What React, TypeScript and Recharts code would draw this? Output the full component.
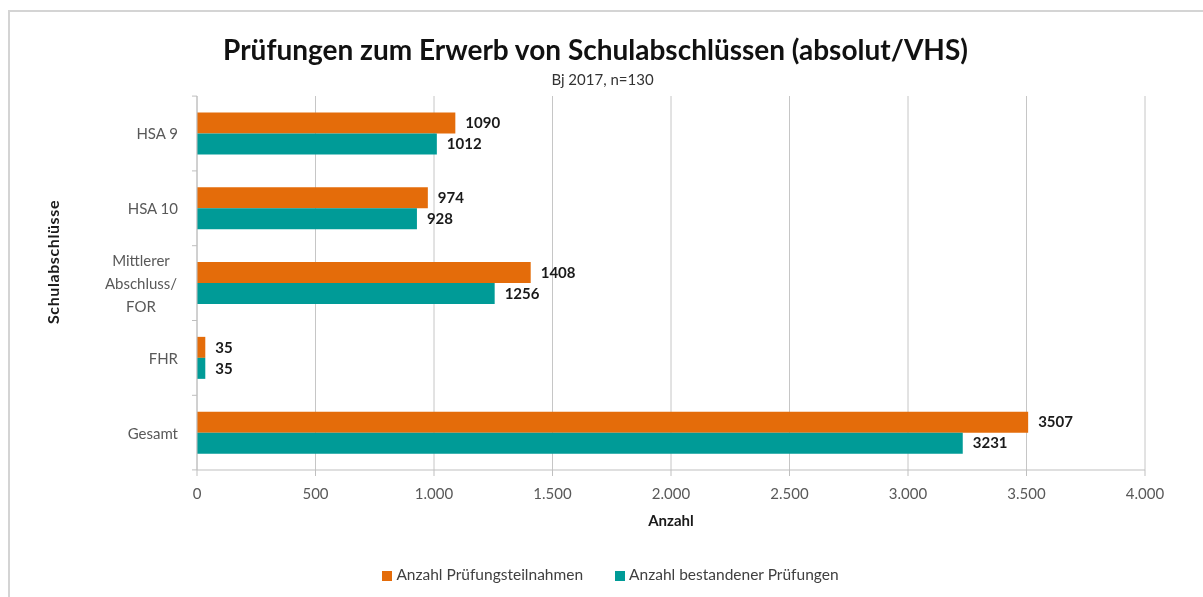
import {BarChart, Bar, XAxis, YAxis, CartesianGrid, Legend, LabelList} from 'recharts';

const categories = ['HSA 9', 'HSA 10', 'Mittlerer\nAbschluss/\nFOR', 'FHR', 'Gesamt'];
const teilnahmen = [1090, 974, 1408, 35, 3507];
const bestanden = [1012, 928, 1256, 35, 3231];
const xTicks = [0, 500, 1000, 1500, 2000, 2500, 3000, 3500, 4000];

const ORANGE = '#e46c0a';
const TEAL = '#009b97';
const FONT = 'Lato, "Open Sans", sans-serif';

const W = 1187;
const H = 581;
const MARGIN = {top: 88, right: 50, left: 0, bottom: 6};
const Y_WIDTH = 189;
const X_HEIGHT = 94;
const PLOT_H = 373;

const data = categories.map((name, i) => ({
    name,
    teilnahmen: teilnahmen[i],
    bestanden: bestanden[i],
}));

const fmt = (v: number) => v.toString().replace(/\B(?=(\d{3})+(?!\d))/g, '.');

const YTick = (props: any) => {
    const {y, payload, index} = props;
    const band = PLOT_H / categories.length;
    const axisX = Y_WIDTH;
    const lines: string[] = String(payload.value).split('\n');
    const textRight = axisX - 19;
    const lineH = 23;
    return (
        <g>
            <line x1={axisX - 5} x2={axisX} y1={y - band / 2} y2={y - band / 2} stroke='#bfbfbf'/>
            {index === categories.length - 1 && (
                <line x1={axisX - 5} x2={axisX} y1={y + band / 2} y2={y + band / 2} stroke='#bfbfbf'/>
            )}
            {lines.length === 1 ? (
                <text x={textRight} y={y} textAnchor='end' dominantBaseline='central'
                      fill='#595959' fontSize={15} fontFamily={FONT}>{lines[0]}</text>
            ) : (
                lines.map((l, i) => (
                    <text key={i} x={textRight - 37} y={y + (i - (lines.length - 1) / 2) * lineH}
                          textAnchor='middle' dominantBaseline='central'
                          fill='#595959' fontSize={15} fontFamily={FONT}>{l}</text>
                ))
            )}
        </g>
    );
};

const App = () => {
    return (
        <div style={{position: 'relative', width: W, height: H, fontFamily: FONT}}>
            <div style={{
                position: 'fixed', left: 8, top: 10, width: 1400, height: 800,
                borderTop: '2px solid #d4d4d4', borderLeft: '2px solid #d4d4d4', pointerEvents: 'none'
            }}/>
            <div style={{
                position: 'absolute', left: 0, width: W, top: 24, textAlign: 'center',
                fontSize: 28, fontWeight: 'bold', color: '#111', transform: 'translateX(-6px)'
            }}>
                Prüfungen zum Erwerb von Schulabschlüssen (absolut/VHS)
            </div>
            <div style={{
                position: 'absolute', left: 0, width: W, top: 62, textAlign: 'center',
                fontSize: 15, color: '#333', transform: 'translateX(1px)'
            }}>
                Bj 2017, n=130
            </div>
            <BarChart
                width={W}
                height={H}
                data={data}
                layout='vertical'
                margin={MARGIN}
                barCategoryGap='22%'
                barGap={0}
            >
                <CartesianGrid horizontal={false} stroke='#c6c6c6'/>
                <XAxis
                    type='number'
                    domain={[0, 4000]}
                    ticks={xTicks}
                    tickFormatter={fmt}
                    height={X_HEIGHT}
                    axisLine={{stroke: '#bfbfbf'}}
                    tickLine={{stroke: '#bfbfbf'}}
                    tickSize={6}
                    tickMargin={12}
                    tick={{fill: '#595959', fontSize: 15, fontFamily: FONT}}
                    label={{
                        value: 'Anzahl', position: 'insideTop', offset: 45,
                        fill: '#1a1a1a', fontSize: 15, fontWeight: 'bold', fontFamily: FONT
                    }}
                />
                <YAxis
                    type='category'
                    dataKey='name'
                    width={Y_WIDTH}
                    axisLine={{stroke: '#bfbfbf'}}
                    tickLine={false}
                    tick={<YTick/>}
                    interval={0}
                    label={{
                        content: () => (
                            <text x={44} y={254} transform='rotate(-90 44 254)' textAnchor='middle'
                                  dominantBaseline='central' fill='#1a1a1a' fontSize={16}
                                  letterSpacing={0.6} fontWeight='bold' fontFamily={FONT}>Schulabschlüsse</text>
                        )
                    }}
                />
                <Legend
                    verticalAlign='bottom'
                    iconType='square'
                    iconSize={10}
                    wrapperStyle={{left: 0, width: W, paddingLeft: 28, boxSizing: 'border-box'}}
                    formatter={(value: string, _e: any, index: number) => (
                        <span style={{color: '#404040', fontSize: 15.5, fontFamily: FONT, marginRight: index === 0 ? 22 : 0}}>
                            {value}
                        </span>
                    )}
                />
                <Bar dataKey='teilnahmen' name='Anzahl Prüfungsteilnahmen' fill={ORANGE} isAnimationActive={false}>
                    <LabelList dataKey='teilnahmen' position='right' offset={10} fill='#1a1a1a'
                               fontSize={15} fontWeight='bold' fontFamily={FONT}/>
                </Bar>
                <Bar dataKey='bestanden' name='Anzahl bestandener Prüfungen' fill={TEAL} isAnimationActive={false}>
                    <LabelList dataKey='bestanden' position='right' offset={10} fill='#1a1a1a'
                               fontSize={15} fontWeight='bold' fontFamily={FONT}/>
                </Bar>
            </BarChart>
        </div>
    );
};

export default App;
